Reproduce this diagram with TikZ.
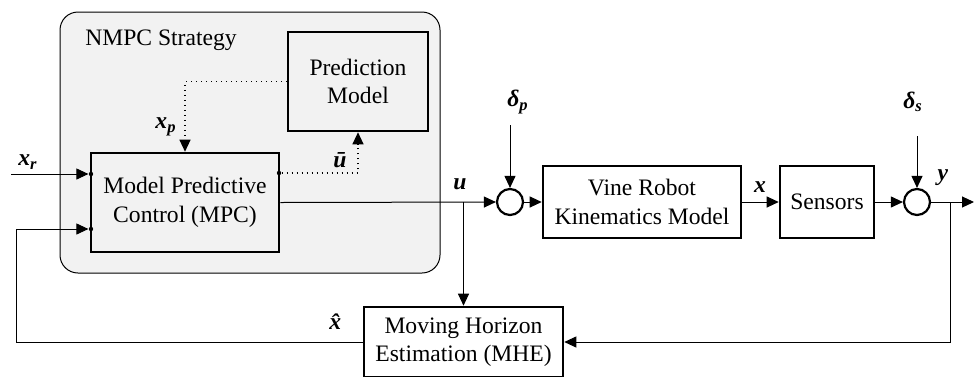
\documentclass[tikz,border=0pt]{standalone}
\usepackage{fontspec}
\setmainfont{Liberation Serif}
\usetikzlibrary{arrows.meta}
\newcommand{\sig}[2]{\textbf{\textit{#1}}\textsubscript{\textbf{\textit{#2}}}}
\newcommand{\bsym}[1]{\textbf{\textit{#1}}}

\begin{document}
\begin{tikzpicture}[x=0.5pt,y=-0.5pt,
    font=\fontsize{11.8}{14.2}\selectfont,
    block/.style={draw, line width=1.3pt, align=center, inner sep=0pt},
    sumnode/.style={draw, circle, line width=1.1pt, minimum size=13pt, inner sep=0pt},
    arr/.style={-{Triangle[length=6pt,width=5.5pt]}, line width=0.5pt},
    port/.style={circle, fill, inner sep=0pt, minimum size=2.2pt}]
  \useasboundingbox (0,0) rectangle (978,376);

  % NMPC strategy frame
  \draw[fill=black!5, line width=0.5pt, rounded corners=9pt] (60,12) rectangle (440,273);
  \node (nmpc) at (161,40) {NMPC Strategy};

  % blocks
  \node[block, minimum width=70pt, minimum height=49.5pt] (pred) at (358,81.5) {Prediction\\Model};
  \node[block, minimum width=94pt, minimum height=49.5pt] (mpc) at (185,202.5) {Model Predictive\\Control (MPC)};
  \node[block, minimum width=99pt, minimum height=36pt] (vine) at (642,202) {Vine Robot\\Kinematics Model};
  \node[block, minimum width=47pt, minimum height=36pt] (sens) at (827,202) {Sensors};
  \node[block, minimum width=99.5pt, minimum height=35pt] (mhe) at (463.5,342) {Moving Horizon\\Estimation (MHE)};

  % summing junctions
  \node[sumnode] (sum1) at (510,202) {};
  \node[sumnode] (sum2) at (917,202) {};

  % ports on the MPC block
  \node[port] (pxr) at (91,174) {};
  \node[port] (pfb) at (91,229) {};
  \node[port] (pub) at (279,173) {};

  % free ends
  \coordinate (xrin) at (11,174);
  \coordinate (dpin) at (510,125);
  \coordinate (dsin) at (917,136);
  \coordinate (yout) at (974,202);
  \coordinate (ubr) at (463.5,202);
  \coordinate (ybr) at (950,202);

  % reference and feedback into MPC
  \draw[arr] (xrin) -- (pxr);
  \draw[arr] (mhe.west) -| (16,229) -- (pfb);

  % prediction loop
  \draw[arr, dotted, line width=0.6pt] (pub) -| (pred.south);
  \draw[arr, dotted, line width=0.6pt] (pred.west) -| (mpc.north);

  % forward path
  \draw[arr] (mpc.east) -- (sum1.west);
  \draw[arr] (ubr) -- (mhe.north);
  \draw[arr] (dpin) -- (sum1.north);
  \draw[arr] (sum1.east) -- (vine.west);
  \draw[arr] (vine.east) -- (sens.west);
  \draw[arr] (sens.east) -- (sum2.west);
  \draw[arr] (dsin) -- (sum2.north);
  \draw[arr] (sum2.east) -- (yout);
  \draw[arr] (ybr) |- (mhe.east);

  % signal labels
  \node (lxr) at (28,162) {\sig{x}{r}};
  \node (lxp) at (166,127) {\sig{x}{p}};
  \node (lub) at (340,160) {\bsym{\=u}};
  \node (lu) at (460,184) {\bsym{u}};
  \node (ldp) at (518,102) {\sig{δ}{p}};
  \node (lx) at (760,187) {\bsym{x}};
  \node (lds) at (913,102) {\sig{δ}{s}};
  \node (ly) at (943,178) {\bsym{y}};
  \node (lxh) at (338,322) {\bsym{\^{x}}};
\end{tikzpicture}
\end{document}
